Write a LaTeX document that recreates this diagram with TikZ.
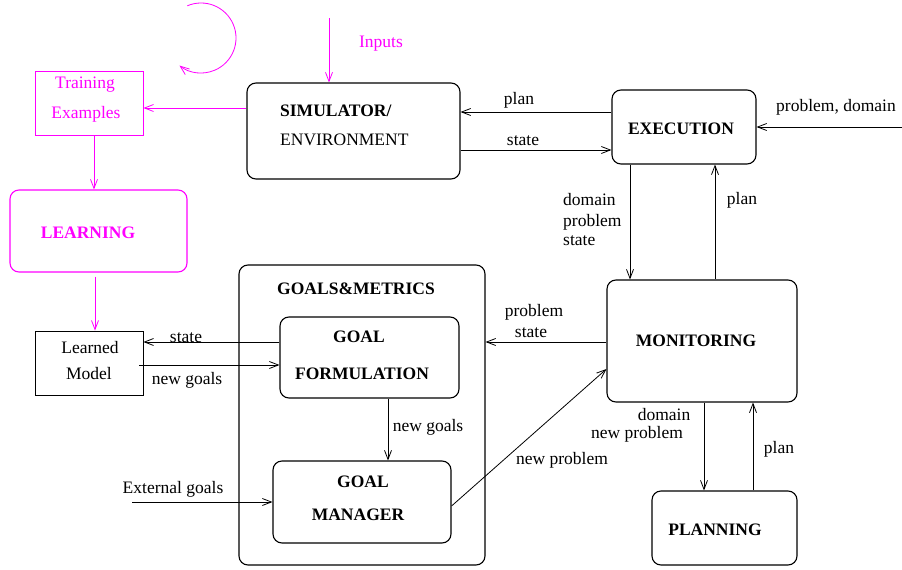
\documentclass[tikz,border=0pt]{standalone}
\usepackage{fontspec}
\setmainfont{Liberation Serif}
\usetikzlibrary{arrows.meta,calc}
\definecolor{mag}{RGB}{255,0,255}
\begin{document}
\begin{tikzpicture}[x=1pt,y=-1pt,
  box/.style={draw, line width=1.1pt, rounded corners=9pt, inner sep=0pt},
  rbox/.style={draw, line width=0.9pt, inner sep=0pt},
  lbl/.style={font=\fontsize{17.5}{19}\selectfont, inner sep=0pt},
  blbl/.style={font=\fontsize{17.5}{19}\selectfont\bfseries, inner sep=0pt},
  conn/.style={line width=0.8pt, -{Straight Barb[length=9pt,width=7pt]}},
  mconn/.style={conn, mag},
]
\useasboundingbox (0,0) rectangle (902,570);

% boxes
\node[box, minimum width=213pt, minimum height=96pt] (sim) at (353.5,131) {};
\node[rbox, mag, minimum width=108pt, minimum height=64pt] (train) at (89,103) {};
\node[box, mag, minimum width=177pt, minimum height=82pt] (learn) at (98.5,231) {};
\node[rbox, minimum width=108pt, minimum height=64pt] (model) at (89,363) {};
\node[box, minimum width=246pt, minimum height=300pt] (gm) at (362,415) {};
\node[box, minimum width=179pt, minimum height=81pt] (gf) at (369.5,357.5) {};
\node[box, minimum width=178pt, minimum height=82pt] (gman) at (362,502) {};
\node[box, minimum width=190pt, minimum height=122pt] (mon) at (702,341) {};
\node[box, minimum width=145pt, minimum height=74pt] (plan) at (724.5,528) {};
\node[box, minimum width=144pt, minimum height=74pt] (exe) at (684,127) {};

% box texts
\node[blbl, anchor=west] (t1) at (280,111) {SIMULATOR/};
\node[lbl, anchor=west] (t2) at (280,140) {ENVIRONMENT};
\node[lbl, mag] (t3) at (85,85) {Training};
\node[lbl, mag] (t4) at (86,114) {Examples};
\node[blbl, mag] (t5) at (88,233) {LEARNING};
\node[lbl] (t6) at (90,348) {Learned};
\node[lbl] (t7) at (89,374) {Model};
\node[blbl] (t8) at (356,289) {GOALS\&METRICS};
\node[blbl] (t9) at (359,337) {GOAL};
\node[blbl] (t10) at (362,374) {FORMULATION};
\node[blbl] (t11) at (363,482) {GOAL};
\node[blbl] (t12) at (358,515) {MANAGER};
\node[blbl] (t13) at (696,341) {MONITORING};
\node[blbl] (t14) at (715,530) {PLANNING};
\node[blbl] (t15) at (681,129) {EXECUTION};

% connector labels
\node[lbl, mag] (l1) at (381,44) {Inputs};
\node[lbl] (l2) at (519,100) {plan};
\node[lbl] (l3) at (523,141) {state};
\node[lbl] (l4) at (836,107) {problem, domain};
\node[lbl, anchor=west] (l5) at (563,200) {domain};
\node[lbl, anchor=west] (l6) at (563,222) {problem};
\node[lbl, anchor=west] (l7) at (563,241) {state};
\node[lbl] (l8) at (742,200) {plan};
\node[lbl] (l9) at (534,312) {problem};
\node[lbl] (l10) at (531,333) {state};
\node[lbl] (l11) at (186,338) {state};
\node[lbl] (l12) at (187,380) {new goals};
\node[lbl] (l13) at (428,427) {new goals};
\node[lbl] (l14) at (173,489) {External goals};
\node[lbl] (l15) at (562,460) {new problem};
\node[lbl] (l16) at (664,415) {domain};
\node[lbl] (l17) at (637,434) {new problem};
\node[lbl] (l18) at (779,449) {plan};

% free ends
\coordinate (inTop) at (329,18);
\coordinate (ext) at (132,502);
\coordinate (pd) at (902,127);
\coordinate (cc) at (201,38);

% magenta connectors
\draw[mconn] (inTop) -- (sim.north -| inTop);
\draw[mconn] (sim.west |- 0,108) -- (train.east |- 0,108);
\draw[mconn] (train.south -| 94,0) -- (learn.north -| 94,0);
\draw[mconn] ($(learn.south -| 95,0)+(0,-4pt)$) -- (model.north -| 95,0);
\draw[mag, line width=0.8pt, -{Straight Barb[length=9pt,width=7pt]}]
  ($(cc)+(113:35pt)$) arc[start angle=113, end angle=-128, radius=35pt];

% black connectors
\draw[conn] (exe.west |- 0,112) -- (sim.east |- 0,112);
\draw[conn] (sim.east |- 0,150) -- (exe.west |- 0,150);
\draw[conn] (pd) -- (exe.east |- pd);
\draw[conn] (exe.south -| 630,0) -- (mon.north -| 630,0);
\draw[conn] (mon.north -| 715,0) -- (exe.south -| 715,0);
\draw[conn] (mon.west |- 0,342) -- (gm.east |- 0,342);
\draw[conn] (gman.east |- 0,506) -- (mon.west |- 0,369);
\draw[conn] (mon.south -| 704,0) -- (plan.north -| 704,0);
\draw[conn] (plan.north -| 753,0) -- (mon.south -| 753,0);
\draw[conn] (gf.west |- 0,342) -- (model.east |- 0,342);
\draw[conn] ($(model.east |- 0,365)+(-4pt,0)$) -- (gf.west |- 0,365);
\draw[conn] (gf.south -| 388,0) -- (gman.north -| 388,0);
\draw[conn] (ext) -- (gman.west |- ext);
\end{tikzpicture}
\end{document}
